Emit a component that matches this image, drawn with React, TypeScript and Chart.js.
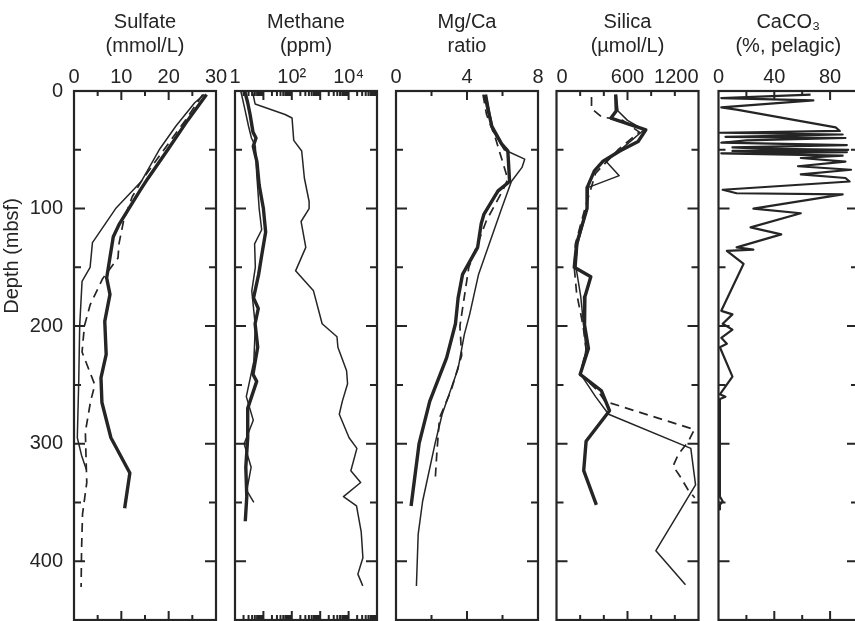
import React, { useEffect, useRef } from 'react';
import { Chart, registerables } from 'chart.js';

Chart.register(...registerables);

const FONT_FAMILY = '"Liberation Sans", Arial, Helvetica, sans-serif';
const INK = '#252525';
const CANVAS_H = 621;

// ---------- depth axis ----------
const depthMin = 0;
const depthMax = 450;
const depthLabelTicks = [0, 100, 200, 300, 400];
const depthFrameTicks = [50, 100, 150, 200, 250, 300, 350, 400];

// ---------- Sulfate (mmol/L) ----------
const sulfateLabelTicks = [0, 10, 20, 30];
const sulfateMajorTicks = [10, 20];
const sulfateMinorTicks = [5, 15, 25];
const sulfThickDepth = [3, 25, 50, 75, 85, 113, 124, 159, 173, 196, 224, 244, 265, 295, 325, 355];
const sulfThick = [28, 24, 19.8, 15.5, 13.9, 9.6, 8.3, 6.9, 7.6, 6.5, 6.8, 5.7, 5.9, 7.8, 11.8, 10.7];
const sulfThinDepth = [3, 10, 30, 50, 77, 100, 129, 150, 162, 200, 247, 295, 310, 322];
const sulfThin = [27.5, 25.5, 21.5, 18, 14.2, 8.8, 3.9, 3.4, 1.7, 1.2, 1.0, 0.7, 1.6, 2.6];
const sulfDashDepth = [3, 25, 50, 75, 90, 110, 130, 142, 160, 182, 200, 222, 250, 264, 290, 320, 333, 360, 390, 422];
const sulfDash = [27.2, 23.5, 19, 14.5, 12.3, 10.5, 9.5, 9.3, 6.0, 3.4, 2.2, 1.7, 4.4, 3.5, 2.4, 2.6, 2.7, 1.8, 1.6, 1.5];

// ---------- Methane (ppm, log) ----------
const methaneLabelTicks = [1, 100, 10000];
const methaneLabelText = ['1', '10²', '10⁴'];
const methaneMajorTicks = [10, 100, 1000, 10000];
const methaneMinorTicks = [
  2, 3, 4, 5, 6, 7, 8, 9,
  20, 30, 40, 50, 60, 70, 80, 90,
  200, 300, 400, 500, 600, 700, 800, 900,
  2000, 3000, 4000, 5000, 6000, 7000, 8000, 9000,
  20000, 30000, 40000, 50000, 60000, 70000, 80000, 90000,
];
const methThickDepth = [0, 10, 20, 35, 40, 47, 60, 80, 100, 120, 140, 156, 176, 185, 198, 218, 241, 247, 270, 295, 320, 345, 366];
const methThick = [2.2, 2.8, 3.4, 4.3, 5.5, 4.4, 5.9, 7.1, 10, 12, 8.7, 6.8, 4.5, 6.6, 5.1, 6.3, 4.3, 5.8, 2.8, 2.8, 2.4, 2.6, 2.3];
const methNearDepth = [0, 15, 30, 40, 47, 70, 100, 118, 130, 150, 170, 200, 230, 260, 280, 300, 320, 340, 350];
const methNear = [1.6, 2.2, 3.0, 3.8, 5.2, 5.8, 7.1, 8.7, 4.9, 5.2, 3.9, 5.2, 4.6, 2.5, 4.4, 2.1, 3.7, 2.6, 4.6];
const methFarDepth = [0, 11, 20, 23, 42, 51, 74, 94, 100, 111, 133, 153, 170, 198, 209, 218, 238, 249, 264, 275, 295, 304, 323, 333, 345, 353, 375, 397, 411, 421];
const methFar = [4.1, 5.1, 58, 102, 117, 223, 277, 407, 407, 212, 311, 136, 580, 1170, 3900, 4200, 8500, 9200, 6000, 4700, 10400, 19600, 12000, 26600, 6600, 19000, 27800, 31900, 21200, 31600];

// ---------- Mg/Ca ratio ----------
const mgLabelTicks = [0, 4, 8];
const mgMajorTicks = [4];
const mgMinorTicks = [2, 6];
const mgThickDepth = [3, 17, 30, 45, 51, 77, 85, 105, 113, 133, 156, 176, 198, 227, 264, 300, 353];
const mgThick = [5.0, 5.2, 5.4, 5.95, 6.3, 6.4, 5.75, 4.95, 4.8, 4.6, 3.75, 3.5, 3.35, 2.85, 1.9, 1.3, 0.85];
const mgThinDepth = [3, 20, 35, 50, 58, 65, 77, 100, 156, 190, 207, 236, 275, 300, 349, 377, 421];
const mgThin = [5.1, 5.3, 5.5, 6.1, 7.25, 7.1, 6.5, 5.95, 4.65, 4.15, 3.85, 3.5, 2.6, 2.2, 1.5, 1.25, 1.15];
const mgDashDepth = [3, 20, 40, 60, 75, 85, 110, 150, 200, 225, 255, 278, 308, 333];
const mgDash = [4.9, 5.1, 5.6, 6.0, 6.3, 6.0, 5.1, 4.1, 3.6, 3.7, 3.1, 2.45, 2.3, 2.2];

// ---------- Silica (µmol/L) ----------
const siLabelTicks = [0, 600, 1200];
const siMajorTicks = [600];
const siMinorTicks = [200, 400, 800, 1000];
const siThickDepth = [3, 17, 23, 33, 43, 51, 60, 68, 82, 100, 130, 150, 158, 175, 199, 219, 241, 255, 272, 298, 323, 352];
const siThick = [500, 505, 460, 755, 690, 535, 390, 320, 260, 258, 170, 150, 290, 240, 237, 270, 200, 380, 448, 250, 230, 337];
const siThinDepth = [3, 17, 25, 33, 45, 60, 72, 82, 100, 130, 150, 175, 200, 220, 241, 260, 275, 304, 335, 391, 420];
const siThin = [505, 520, 600, 740, 600, 420, 530, 270, 260, 180, 165, 205, 230, 250, 205, 330, 440, 1135, 1175, 840, 1090];
const siDashDepth = [5, 15, 22, 25, 35, 50, 70, 100, 130, 150, 172, 200, 220, 241, 255, 264, 288, 298, 309, 319, 328, 339, 346];
const siDash = [296, 296, 380, 560, 700, 520, 330, 240, 160, 150, 170, 225, 250, 200, 350, 410, 1165, 1115, 1030, 985, 1045, 1110, 1168];

// ---------- CaCO3 (%, pelagic) ----------
const caLabelTicks = [0, 40, 80];
const caMajorTicks = [40, 80];
const caMinorTicks = [20, 60];
const caDepth = [3, 6, 8, 14, 16, 31, 34, 35.5, 37, 39, 40, 42, 44, 46, 48, 49, 50, 51, 52, 53, 55, 57, 60, 64, 67, 71, 74, 77, 84, 87, 88, 100, 104, 116, 122, 133, 135, 136, 147, 187, 190, 198, 203, 210, 215, 218, 243, 258, 260, 262, 300, 345, 349, 352, 356];
const caVal = [66, 2, 68, 2, 14, 84, 87, 1, 89, 5, 91, 20, 2, 92, 10, 30, 93, 10, 92, 2, 89, 59, 91, 57, 95, 59, 91, 94, 3, 13, 89, 25, 59, 23, 45, 13, 25, 6, 18, 2, 10, 3, 10, 2, 6, 1, 10, 1, 5, 1, 1, 1, 3, 1, 1];

type Style = 'thick' | 'thin' | 'dashed' | 'medium';
interface SeriesDef { depth: number[]; values: number[]; style: Style }
interface PanelDef {
  key: string;
  left: number;
  right: number;
  canvasW: number;
  title: string[];
  xType: 'linear' | 'logarithmic';
  xMin: number;
  xMax: number;
  labelTicks: number[];
  labelText?: string[];
  majorTicks: number[];
  minorTicks: number[];
  align: 'center' | 'inner';
  depthAxis: boolean;
  series: SeriesDef[];
}

const PANELS: PanelDef[] = [
  {
    key: 'sulfate', left: 74, right: 216, canvasW: 855, title: ['Sulfate', '(mmol/L)'],
    xType: 'linear', xMin: 0, xMax: 30, labelTicks: sulfateLabelTicks,
    majorTicks: sulfateMajorTicks, minorTicks: sulfateMinorTicks, align: 'center', depthAxis: true,
    series: [
      { depth: sulfThinDepth, values: sulfThin, style: 'thin' },
      { depth: sulfDashDepth, values: sulfDash, style: 'dashed' },
      { depth: sulfThickDepth, values: sulfThick, style: 'thick' },
    ],
  },
  {
    key: 'methane', left: 235, right: 377, canvasW: 855, title: ['Methane', '(ppm)'],
    xType: 'logarithmic', xMin: 1, xMax: 100000, labelTicks: methaneLabelTicks, labelText: methaneLabelText,
    majorTicks: methaneMajorTicks, minorTicks: methaneMinorTicks, align: 'center', depthAxis: false,
    series: [
      { depth: methFarDepth, values: methFar, style: 'thin' },
      { depth: methNearDepth, values: methNear, style: 'thin' },
      { depth: methThickDepth, values: methThick, style: 'thick' },
    ],
  },
  {
    key: 'mgca', left: 396, right: 538, canvasW: 855, title: ['Mg/Ca', 'ratio'],
    xType: 'linear', xMin: 0, xMax: 8, labelTicks: mgLabelTicks,
    majorTicks: mgMajorTicks, minorTicks: mgMinorTicks, align: 'center', depthAxis: false,
    series: [
      { depth: mgThinDepth, values: mgThin, style: 'thin' },
      { depth: mgDashDepth, values: mgDash, style: 'dashed' },
      { depth: mgThickDepth, values: mgThick, style: 'thick' },
    ],
  },
  {
    key: 'silica', left: 556.5, right: 698.5, canvasW: 855, title: ['Silica', '(µmol/L)'],
    xType: 'linear', xMin: 0, xMax: 1200, labelTicks: siLabelTicks,
    majorTicks: siMajorTicks, minorTicks: siMinorTicks, align: 'inner', depthAxis: false,
    series: [
      { depth: siThinDepth, values: siThin, style: 'thin' },
      { depth: siDashDepth, values: siDash, style: 'dashed' },
      { depth: siThickDepth, values: siThick, style: 'thick' },
    ],
  },
  {
    key: 'caco3', left: 718.5, right: 858, canvasW: 880, title: ['CaCO₃', '(%, pelagic)'],
    xType: 'linear', xMin: 0, xMax: 100, labelTicks: caLabelTicks,
    majorTicks: caMajorTicks, minorTicks: caMinorTicks, align: 'center', depthAxis: false,
    series: [
      { depth: caDepth, values: caVal, style: 'medium' },
    ],
  },
];

function styleFor(style: Style) {
  switch (style) {
    case 'thick':
      return { borderWidth: 3.4, borderDash: [] as number[] };
    case 'thin':
      return { borderWidth: 1.5, borderDash: [] as number[] };
    case 'dashed':
      return { borderWidth: 1.7, borderDash: [9, 6] };
    default:
      return { borderWidth: 2.2, borderDash: [] as number[] };
  }
}

function PanelChart({ def }: { def: PanelDef }) {
  const ref = useRef<HTMLCanvasElement>(null);

  useEffect(() => {
    const canvas = ref.current;
    if (!canvas) return;
    const font = { family: FONT_FAMILY, size: 20, lineHeight: 1.2 };

    const framePlugin = {
      id: 'frame_' + def.key,
      afterDatasetsDraw(chart: any) {
        const { ctx, chartArea: a, scales } = chart;
        const xs = scales.x;
        const ys = scales.y;
        ctx.save();
        ctx.strokeStyle = INK;
        ctx.lineWidth = 2;
        ctx.beginPath();
        for (const v of depthFrameTicks) {
          const py = ys.getPixelForValue(v);
          const len = v % 100 === 0 ? 11 : 7;
          ctx.moveTo(a.left, py);
          ctx.lineTo(a.left + len, py);
          ctx.moveTo(a.right - len, py);
          ctx.lineTo(a.right, py);
        }
        const drawX = (vals: number[], len: number) => {
          for (const v of vals) {
            const px = xs.getPixelForValue(v);
            ctx.moveTo(px, a.top);
            ctx.lineTo(px, a.top + len);
            ctx.moveTo(px, a.bottom - len);
            ctx.lineTo(px, a.bottom);
          }
        };
        drawX(def.majorTicks, 9);
        drawX(def.minorTicks, 5);
        ctx.stroke();
        ctx.lineWidth = 2.2;
        ctx.strokeRect(a.left, a.top, a.right - a.left, a.bottom - a.top);
        if (def.depthAxis) {
          ctx.save();
          ctx.translate(12, 256);
          ctx.rotate(-Math.PI / 2);
          ctx.font = `20px ${FONT_FAMILY}`;
          ctx.fillStyle = INK;
          ctx.textAlign = 'center';
          ctx.textBaseline = 'middle';
          ctx.fillText('Depth (mbsf)', 0, 0);
          ctx.restore();
        }
        ctx.restore();
      },
    };

    const datasets = def.series.map((s) => {
      const st = styleFor(s.style);
      return {
        data: s.values.map((v, i) => ({ x: v, y: s.depth[i] })),
        showLine: true,
        borderColor: INK,
        backgroundColor: INK,
        borderWidth: st.borderWidth,
        borderDash: st.borderDash,
        borderJoinStyle: 'round' as const,
        borderCapStyle: 'butt' as const,
        pointRadius: 0,
        pointHoverRadius: 0,
        tension: 0,
        fill: false,
      };
    });

    const chart = new Chart(canvas, {
      type: 'scatter',
      data: { datasets },
      options: {
        responsive: false,
        maintainAspectRatio: false,
        animation: false,
        events: [],
        layout: { padding: { left: 0, top: 0, right: def.canvasW - def.right, bottom: CANVAS_H - 620 } },
        plugins: { legend: { display: false }, tooltip: { enabled: false } },
        scales: {
          x: {
            type: def.xType,
            position: 'top',
            min: def.xMin,
            max: def.xMax,
            grid: { display: false, drawTicks: false },
            border: { display: false },
            ticks: {
              autoSkip: false,
              maxRotation: 0,
              minRotation: 0,
              padding: 2,
              align: def.align,
              font,
              color: INK,
              callback: (value: any) => {
                const idx = def.labelTicks.indexOf(Number(value));
                if (idx < 0) return '';
                return def.labelText ? def.labelText[idx] : String(def.labelTicks[idx]);
              },
            },
            afterBuildTicks: (s: any) => {
              s.ticks = def.labelTicks.map((v) => ({ value: v }));
            },
            afterFit: (s: any) => {
              s.height = 91;
              s.paddingLeft = 0;
              s.paddingRight = 0;
            },
            title: {
              display: true,
              text: def.title,
              font,
              color: INK,
              padding: { top: 10, bottom: 0 },
            },
          } as any,
          y: {
            type: 'linear',
            reverse: true,
            min: depthMin,
            max: depthMax,
            grid: { display: false, drawTicks: false },
            border: { display: false },
            ticks: {
              display: def.depthAxis,
              autoSkip: false,
              padding: 11,
              font,
              color: INK,
            },
            afterBuildTicks: (s: any) => {
              s.ticks = depthLabelTicks.map((v) => ({ value: v }));
            },
            afterFit: (s: any) => {
              s.width = def.left;
              s.paddingTop = 0;
              s.paddingBottom = 0;
            },
          } as any,
        },
      },
      plugins: [framePlugin],
    });

    return () => chart.destroy();
  }, [def]);

  return (
    <canvas
      ref={ref}
      width={def.canvasW}
      height={CANVAS_H}
      style={{ position: 'absolute', left: 0, top: 0, width: def.canvasW, height: CANVAS_H }}
    />
  );
}

export default function App() {
  return (
    <div
      style={{
        position: 'fixed',
        left: 0,
        top: 0,
        width: 855,
        height: CANVAS_H,
        overflow: 'hidden',
        background: '#ffffff',
      }}
    >
      {PANELS.map((p) => (
        <PanelChart key={p.key} def={p} />
      ))}
    </div>
  );
}
